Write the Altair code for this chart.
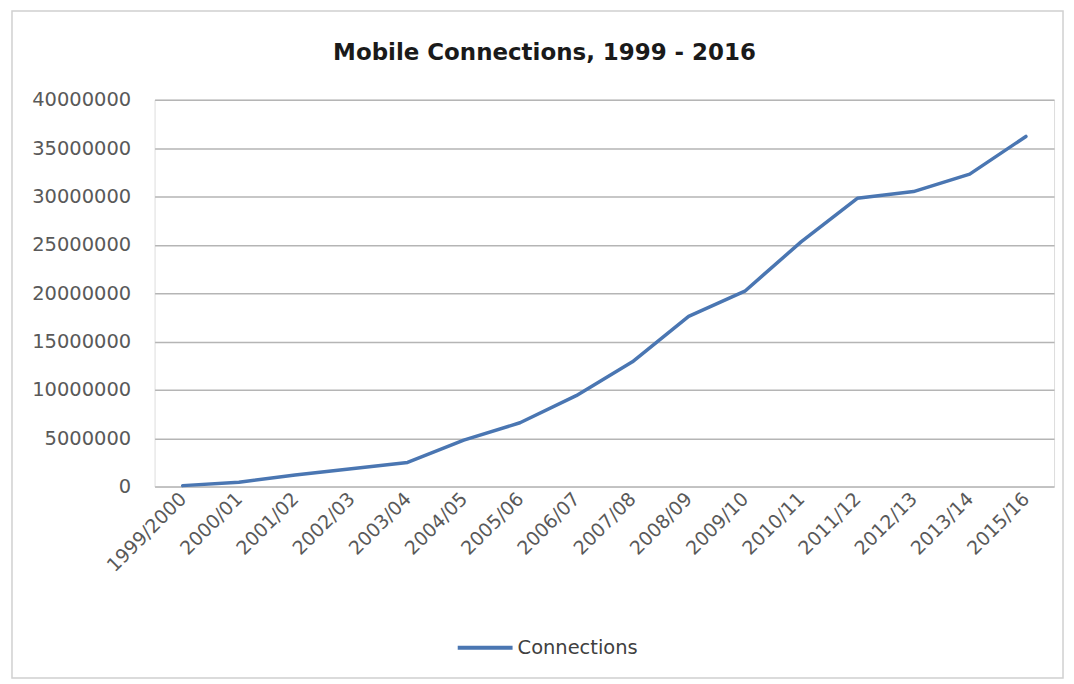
import altair as alt
import pandas as pd

years = ["1999/2000", "2000/01", "2001/02", "2002/03", "2003/04", "2004/05",
         "2005/06", "2006/07", "2007/08", "2008/09", "2009/10", "2010/11",
         "2011/12", "2012/13", "2013/14", "2015/16"]
connections = [100000, 450000, 1200000, 1850000, 2500000, 4800000,
               6600000, 9400000, 12900000, 17600000, 20200000, 25300000,
               29800000, 30500000, 32300000, 36200000]
series = ["Connections"] * len(years)
title_text = "Mobile Connections, 1999 - 2016"

df = pd.DataFrame({"Year": years, "Value": connections, "Series": series})

FONT = "DejaVu Sans"

line = alt.Chart(df).mark_line(strokeWidth=3.5, strokeCap="round", strokeJoin="round").encode(
    x=alt.X("Year:N", sort=years, title=None,
            scale=alt.Scale(paddingInner=0, paddingOuter=0.5),
            axis=alt.Axis(labelAngle=-45, labelAlign="right", labelBaseline="middle",
                          labelPadding=9, ticks=False, domain=False, grid=False,
                          labelFont=FONT, labelFontSize=19, labelColor="#595959")),
    y=alt.Y("Value:Q", title=None,
            scale=alt.Scale(domain=[0, 40000000], nice=False),
            axis=alt.Axis(values=list(range(0, 40000001, 5000000)), format="d",
                          ticks=False, domain=False, grid=True,
                          gridColor="#b5b5b5", gridWidth=1.5,
                          labelPadding=24, labelFont=FONT, labelFontSize=19.5,
                          labelColor="#595959")),
    color=alt.Color("Series:N", title=None,
                    scale=alt.Scale(domain=["Connections"], range=["#4A76B2"]),
                    legend=alt.Legend(orient="none", legendX=302, legendY=520,
                                      symbolType="stroke", symbolSize=3025,
                                      symbolStrokeWidth=4, labelOffset=3,
                                      labelFont=FONT, labelFontSize=19.5,
                                      labelColor="#404040")),
)

one = pd.DataFrame({"t": [title_text]})
frame = alt.Chart(one).mark_rect(fill=None, stroke="#d0d0d0", strokeWidth=1.5).encode(
    x=alt.value(-143), x2=alt.value(911), y=alt.value(-89), y2=alt.value(580)
)
title = alt.Chart(one).mark_text(font=FONT, fontSize=23, fontWeight="bold",
                                 color="#1a1a1a", align="center",
                                 baseline="alphabetic").encode(
    text="t:N", x=alt.value(391), y=alt.value(-40)
)

chart = alt.layer(frame, title, line).properties(
    width=902, height=388,
    autosize=alt.AutoSizeParams(type="none"),
    padding={"left": 147, "top": 91, "right": 12, "bottom": 194},
).configure_view(stroke=None).configure(background="white")

chart.save("out.html", embed_options={"renderer": "svg", "actions": False})
